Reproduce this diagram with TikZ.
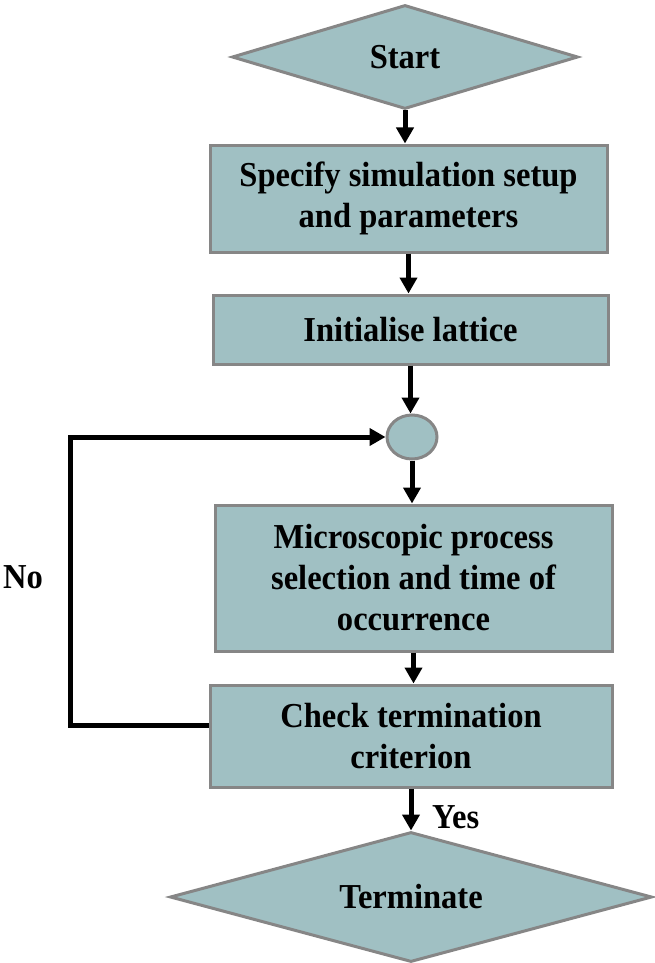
\documentclass[tikz,border=0pt]{standalone}
\usepackage{fontspec}
\setmainfont{Liberation Serif}[FakeStretch=0.93]
\usetikzlibrary{shapes.geometric,arrows.meta}

\begin{document}
\begin{tikzpicture}[x=1pt,y=1pt,%%
  font=\fontsize{35}{41}\selectfont\bfseries,%%
  boxStyle/.style={draw=gray!95,line width=3pt,fill=flowFill,align=center,inner sep=0pt},%%
  stepBox/.style={boxStyle,rectangle},%%
  endBox/.style={boxStyle,diamond},%%
  arrowStyle/.style={-{Triangle[length=16pt,width=17pt]},line width=5pt,draw=black},%%
  arrowLabel/.style={inner sep=0pt}
]
\definecolor{flowFill}{RGB}{160,192,195}
%%
%%
\useasboundingbox (0,0) rectangle (654,-963);
%%
%% Start and terminate diamonds.
\node[endBox,minimum width=346,minimum height=104,aspect=3.33] (start) at (405,-57) {Start};
\node[endBox,minimum width=482,minimum height=130,aspect=3.7] (stop) at (411,-897) {Terminate};
%% Process boxes.
\node[stepBox,minimum width=397,minimum height=107] (setup) at (408.5,-198.5)
  {Specify simulation setup\\and parameters};
\node[stepBox,minimum width=395,minimum height=69] (init) at (410.5,-329.5) {Initialise lattice};
\node[boxStyle,ellipse,minimum width=50,minimum height=44] (junction) at (412,-437) {};
\node[stepBox,minimum width=397,minimum height=146] (select) at (413.5,-578)
  {Microscopic process\\selection and time of\\occurrence};
\node[stepBox,minimum width=402,minimum height=102] (check) at (411,-736)
  {Check termination\\criterion};
%%
%%
%% Main flow.
\draw[arrowStyle] (start.south) -- (start.south |- setup.north);
\draw[arrowStyle] (setup.south) -- (setup.south |- init.north);
\draw[arrowStyle] (init.south) -- (init.south |- junction.north);
\draw[arrowStyle] (junction.south) -- (junction.south |- select.north);
\draw[arrowStyle] (select.south) -- (select.south |- check.north);
\draw[arrowStyle] (check.south) -- (check.south |- stop.north);
\node[arrowLabel,anchor=west] (yes) at (432,-817) {Yes};
%% Loop back when the criterion is not met.
\coordinate (noExit) at ([yshift=11pt]check.west);
\draw[arrowStyle] (noExit) -- ++(-138,0) |- (junction.west);
\node[arrowLabel] (no) at (23,-577) {No};
\end{tikzpicture}
\end{document}
